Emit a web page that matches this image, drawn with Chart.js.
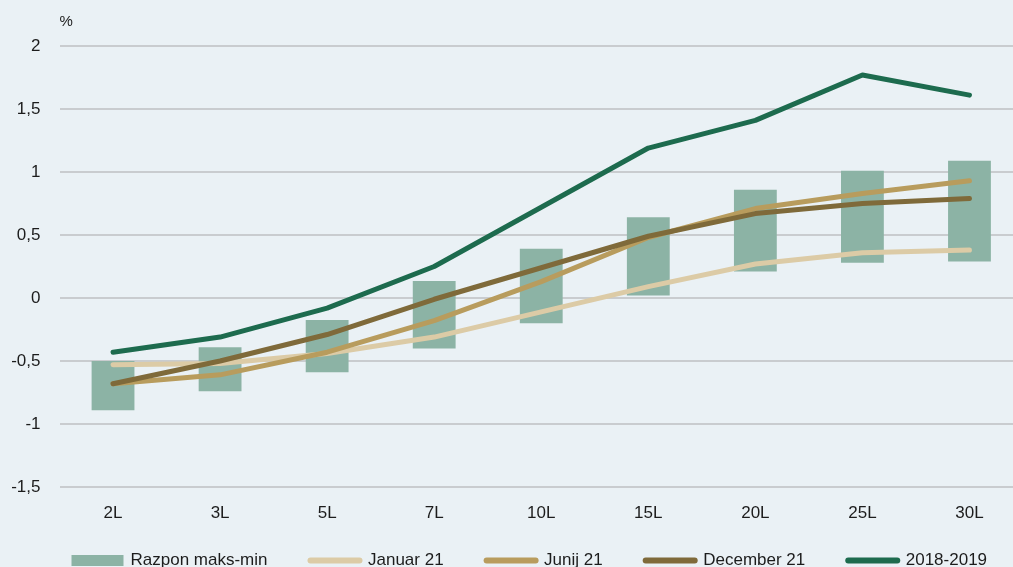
<!DOCTYPE html>
<html>
<head>
<meta charset="utf-8">
<script src="https://cdn.jsdelivr.net/npm/chart.js@4"></script>
<style>
  html, body { margin: 0; padding: 0; background: #eaf1f5; overflow: hidden; }
  canvas { display: block; }
</style>
</head>
<body>
<canvas id="chart" width="1023" height="579"></canvas>
<script>
// Maturities on the x axis
const categories = ['2L', '3L', '5L', '7L', '10L', '15L', '20L', '25L', '30L'];

// Max-min range per maturity (floating bars)
const rangeMin = [-0.89, -0.74, -0.59, -0.40, -0.20, 0.02, 0.21, 0.28, 0.29];
const rangeMax = [-0.50, -0.39, -0.175, 0.135, 0.39, 0.64, 0.86, 1.01, 1.09];

// Curves
const januar21   = [-0.53, -0.52, -0.44, -0.31, -0.11, 0.09, 0.27, 0.36, 0.38];
const junij21    = [-0.68, -0.61, -0.43, -0.18, 0.13, 0.48, 0.71, 0.83, 0.93];
const december21 = [-0.68, -0.50, -0.29, -0.01, 0.24, 0.49, 0.67, 0.75, 0.79];
const avg2018_19 = [-0.43, -0.31, -0.08, 0.25, 0.72, 1.19, 1.41, 1.77, 1.61];

// Y axis ticks
const yTicks = [-1.5, -1, -0.5, 0, 0.5, 1, 1.5, 2];

const FONT = '"Liberation Sans", Arial, sans-serif';
const TEXT = '#1c1c1c';

const lineDs = (label, data, color, order) => ({
  type: 'line',
  label,
  data,
  borderColor: color,
  backgroundColor: color,
  borderWidth: 5,
  borderCapStyle: 'round',
  borderJoinStyle: 'round',
  pointRadius: 0,
  tension: 0,
  order
});

// "%" unit label above the value axis
const unitLabel = {
  id: 'unitLabel',
  afterDraw(chart) {
    const { ctx, chartArea } = chart;
    ctx.save();
    ctx.font = '15px ' + FONT;
    ctx.fillStyle = TEXT;
    ctx.textAlign = 'left';
    ctx.textBaseline = 'middle';
    ctx.fillText('%', chartArea.left, 22);
    ctx.restore();
  }
};

// Keep the legend on one row, starting just right of the axis labels
const legendPlacement = {
  id: 'legendPlacement',
  afterLayout(chart) {
    const lg = chart.legend;
    if (!lg) return;
    lg.left = 30;
    lg.right = 1080;
    lg.top = 509;
    lg.bottom = 600;
  }
};

new Chart(document.getElementById('chart'), {
  type: 'bar',
  data: {
    labels: categories,
    datasets: [
      {
        type: 'bar',
        label: 'Razpon maks-min',
        data: rangeMin.map((v, i) => [v, rangeMax[i]]),
        backgroundColor: '#8cb3a5',
        borderWidth: 0,
        barPercentage: 0.4,
        categoryPercentage: 1,
        order: 10
      },
      lineDs('Januar 21', januar21, '#dccba6', 4),
      lineDs('Junij 21', junij21, '#b89c5d', 3),
      lineDs('December 21', december21, '#7f6a3a', 2),
      lineDs('2018-2019', avg2018_19, '#1d6b4e', 1)
    ]
  },
  options: {
    responsive: false,
    animation: false,
    devicePixelRatio: 1,
    layout: { padding: { left: 0, top: 46, right: 0, bottom: 0 } },
    plugins: {
      tooltip: { enabled: false },
      legend: {
        position: 'bottom',
        align: 'start',
        maxHeight: 30,
        labels: {
          usePointStyle: true,
          pointStyleWidth: 49,
          boxHeight: 8,
          padding: 43,
          color: TEXT,
          font: { family: FONT, size: 17 },
          generateLabels(chart) {
            return chart.data.datasets.map((ds, i) => {
              const isBar = ds.type === 'bar';
              return {
                text: ds.label,
                datasetIndex: i,
                hidden: false,
                fontColor: TEXT,
                fillStyle: isBar ? ds.backgroundColor : 'rgba(0,0,0,0)',
                strokeStyle: isBar ? ds.backgroundColor : ds.borderColor,
                lineWidth: isBar ? 3 : 6,
                lineCap: isBar ? 'butt' : 'round',
                pointStyle: isBar ? 'rect' : 'line'
              };
            });
          }
        }
      }
    },
    scales: {
      x: {
        grid: { display: false, drawTicks: false },
        border: { display: false },
        ticks: { color: TEXT, font: { family: FONT, size: 17 }, padding: 16 },
        afterFit(scale) { scale.height = 62; }
      },
      y: {
        min: -1.5,
        max: 2,
        afterBuildTicks(scale) { scale.ticks = yTicks.map(v => ({ value: v })); },
        grid: { color: '#c9cccf', lineWidth: 2, drawTicks: false },
        border: { display: false },
        ticks: {
          color: TEXT,
          font: { family: FONT, size: 17 },
          padding: 19,
          callback: v => String(v).replace('.', ',')
        },
        afterFit(scale) { scale.width = 59.5; }
      }
    }
  },
  plugins: [unitLabel, legendPlacement]
});
</script>
</body>
</html>
